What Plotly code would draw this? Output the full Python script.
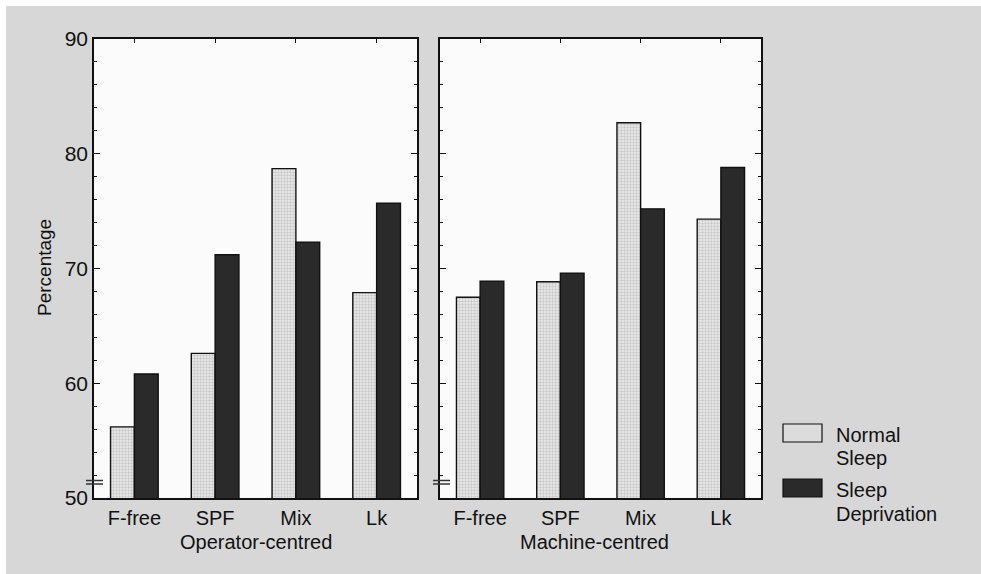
import plotly.graph_objects as go

categories = ["F-free", "SPF", "Mix", "Lk"]
operator_normal = [56.2, 62.6, 78.7, 67.9]
operator_deprived = [60.8, 71.2, 72.3, 75.7]
machine_normal = [67.5, 68.85, 82.7, 74.3]
machine_deprived = [68.9, 69.6, 75.2, 78.8]
y_ticks = [50, 60, 70, 80, 90]
panel_titles = ["Operator-centred", "Machine-centred"]
legend_lines = [["Normal", "Sleep"], ["Sleep", "Deprivation"]]

W, H = 981, 574
L, R, T, B = 94, 761, 39, 498
FONT = "Liberation Sans, Arial, sans-serif"

def px(x):
    return (x - L) / (R - L)

def py(y):
    return (B - y) / (B - T)

normal_marker = dict(color="#dcdcdc", line=dict(color="#111111", width=1.4),
                     pattern=dict(shape="+", size=3, solidity=0.3, fgcolor="#9a9a9a", bgcolor="#e4e4e4"))
dark_marker = dict(color="#2a2a2a", line=dict(color="#111111", width=1.4))

fig = go.Figure()
fig.add_bar(x=categories, y=operator_normal, marker=normal_marker, xaxis="x", yaxis="y", showlegend=False)
fig.add_bar(x=categories, y=operator_deprived, marker=dark_marker, xaxis="x", yaxis="y", showlegend=False)
fig.add_bar(x=categories, y=machine_normal, marker=normal_marker, xaxis="x2", yaxis="y2", showlegend=False)
fig.add_bar(x=categories, y=machine_deprived, marker=dark_marker, xaxis="x2", yaxis="y2", showlegend=False)

xcommon = dict(range=[-0.5, 3.5], showline=True, mirror="ticks", linecolor="#111111", linewidth=1.5,
               ticks="inside", ticklen=4, tickcolor="#111111", showgrid=False, zeroline=False,
               ticklabelstandoff=1,
               tickfont=dict(family=FONT, size=20, color="#111111"))
ycommon = dict(range=[50, 90], tickvals=y_ticks, showline=True, mirror="ticks", linecolor="#111111",
               linewidth=1.5, ticks="inside", ticklen=6, tickcolor="#111111", showgrid=False,
               zeroline=False, minor=dict(dtick=2, ticks="inside", ticklen=3, tickcolor="#111111"),
               tickfont=dict(family=FONT, size=21, color="#111111"))

fig.update_layout(
    width=W, height=H,
    margin=dict(l=L, r=W - R, t=T, b=H - B),
    paper_bgcolor="#d7d7d7", plot_bgcolor="#fbfbfb",
    barmode="group", bargap=0.41, bargroupgap=0,
    font=dict(family=FONT, color="#111111"),
    xaxis=dict(domain=[0, px(417)], anchor="y", **xcommon),
    xaxis2=dict(domain=[px(440), 1], anchor="y2", **xcommon),
    yaxis=dict(domain=[0, 1], anchor="x", **ycommon),
    yaxis2=dict(domain=[0, 1], anchor="x2", matches="y", showticklabels=False,
                **{k: v for k, v in ycommon.items() if k not in ("tickfont",)}),
)

shapes = []
shapes.append(dict(type="rect", xref="paper", yref="paper", x0=px(0), x1=px(W), y0=py(0), y1=py(6),
                   fillcolor="white", line=dict(width=0), layer="below"))
shapes.append(dict(type="rect", xref="paper", yref="paper", x0=px(0), x1=px(6), y0=py(0), y1=py(H),
                   fillcolor="white", line=dict(width=0), layer="below"))
for x0 in (86, 433):
    for yy in (480.5, 484):
        shapes.append(dict(type="line", xref="paper", yref="paper", x0=px(x0), x1=px(x0 + 17),
                           y0=py(yy), y1=py(yy), line=dict(color="#333333", width=1.5)))
shapes.append(dict(type="rect", xref="paper", yref="paper", x0=px(783), x1=px(822), y0=py(442), y1=py(424),
                   fillcolor="#dcdcdc", line=dict(color="#111111", width=1.2)))
shapes.append(dict(type="rect", xref="paper", yref="paper", x0=px(783), x1=px(822), y0=py(497), y1=py(479),
                   fillcolor="#2a2a2a", line=dict(color="#111111", width=1.2)))
fig.update_layout(shapes=shapes)

ann = []
ann.append(dict(text="Percentage", xref="paper", yref="paper", x=px(44), y=py(268), textangle=-90,
                xanchor="center", yanchor="middle", showarrow=False, font=dict(size=19, family=FONT)))
ann.append(dict(text=panel_titles[0], xref="paper", yref="paper", x=px(256), y=py(542),
                xanchor="center", yanchor="middle", showarrow=False, font=dict(size=20, family=FONT)))
ann.append(dict(text=panel_titles[1], xref="paper", yref="paper", x=px(594), y=py(542),
                xanchor="center", yanchor="middle", showarrow=False, font=dict(size=20, family=FONT)))
legend_y = [[435, 458], [490, 514]]
for lines, ys in zip(legend_lines, legend_y):
    for text, yy in zip(lines, ys):
        ann.append(dict(text=text, xref="paper", yref="paper", x=px(834), y=py(yy), xanchor="left",
                        yanchor="middle", align="left", showarrow=False, font=dict(size=20, family=FONT)))
fig.update_layout(annotations=ann)

fig.write_html("out.html")
